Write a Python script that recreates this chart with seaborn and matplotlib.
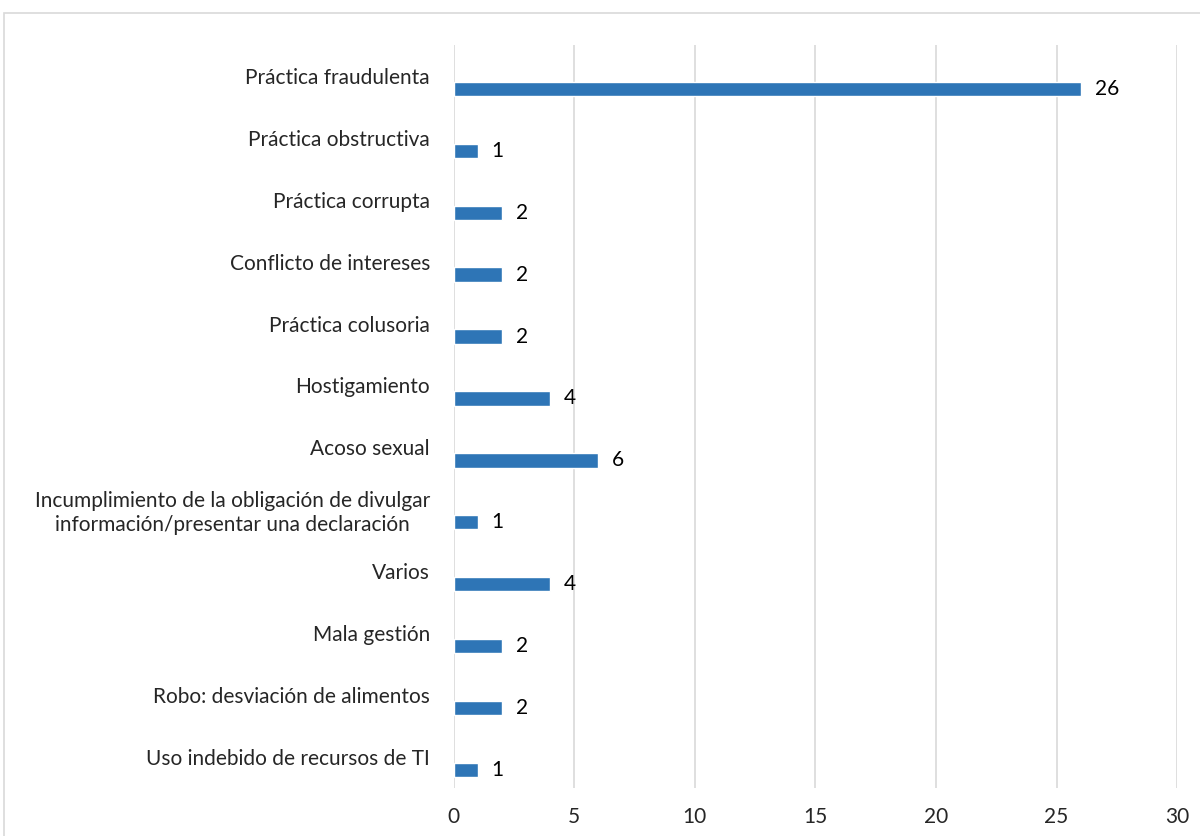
import numpy as np
import pandas as pd
import matplotlib.pyplot as plt
from matplotlib.patches import Rectangle
import seaborn as sns

categorias = ["Práctica fraudulenta", "Práctica obstructiva", "Práctica corrupta",
              "Conflicto de intereses", "Práctica colusoria", "Hostigamiento",
              "Acoso sexual",
              "Incumplimiento de la obligación de divulgar\ninformación/presentar una declaración",
              "Varios", "Mala gestión", "Robo: desviación de alimentos",
              "Uso indebido de recursos de TI"]
casos = [26, 1, 2, 2, 2, 4, 6, 1, 4, 2, 2, 1]
ticks_x = [0, 5, 10, 15, 20, 25, 30]

df = pd.DataFrame({"categoria": categorias, "valor": casos})

sns.set_style("white")
plt.rcParams['font.family'] = ['Lato', 'DejaVu Sans']

fig = plt.figure(figsize=(12, 8.36), dpi=100)
ax = fig.add_axes([0.378, 0.0574, 0.603, 0.889])

sns.barplot(data=df, x="valor", y="categoria", color="#2E75B6", saturation=1,
            orient="h", width=0.23, ax=ax, errorbar=None)

# excel clustered look: bar sits a bit below the category label
for p in ax.patches:
    p.set_y(p.get_y() + 0.21)

ax.bar_label(ax.containers[0], labels=[f"{v:g}" for v in casos], padding=10,
             fontsize=15, color="black")

ax.set_xlim(0, 30)
ax.set_ylim(len(categorias) - 0.5, -0.5)
ax.set_xticks(ticks_x)
ax.xaxis.grid(True, color="#d9d9d9", linewidth=1.2)
ax.yaxis.grid(False)
ax.set_axisbelow(True)
for s in ax.spines.values():
    s.set_visible(False)
ax.tick_params(axis="x", length=0, pad=14, labelsize=15)
ax.tick_params(axis="y", length=0, pad=17, labelsize=15)
for t in ax.get_yticklabels():
    t.set_multialignment("center")
ax.set_xlabel("")
ax.set_ylabel("")

fig.patches.append(Rectangle((4 / 1200, -0.1), 1.2, 1.1 - 13 / 836, transform=fig.transFigure,
                             fill=False, edgecolor="#d9d9d9", linewidth=1.2))

fig.savefig("out.png", dpi=100)
